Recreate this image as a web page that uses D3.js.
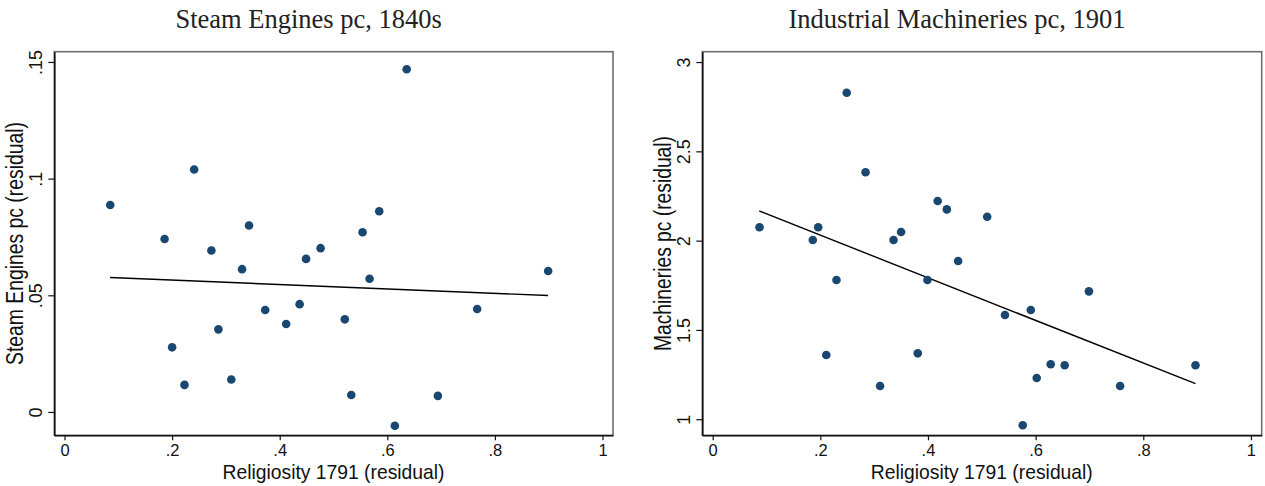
<!DOCTYPE html>
<html>
<head>
<meta charset="utf-8">
<script src="https://cdn.jsdelivr.net/npm/d3@7"></script>
<style>
  body { margin: 0; background: #fff; }
  svg { display: block; }
</style>
</head>
<body>
<svg id="chart" width="1265" height="486"></svg>
<script>
// x axis (shared)
const xTickValues = [0, 0.2, 0.4, 0.6, 0.8, 1];
const xTickLabels = ["0", ".2", ".4", ".6", ".8", "1"];
const xTitle = "Religiosity 1791 (residual)";

// left panel: steam engines
const steamTitle = "Steam Engines pc, 1840s";
const steamYTitle = "Steam Engines pc (residual)";
const steamYTicks = [0, 0.05, 0.1, 0.15];
const steamYLabels = ["0", ".05", ".1", ".15"];
const steamX = [0.085, 0.186, 0.241, 0.273, 0.343, 0.330, 0.449, 0.476, 0.554, 0.585, 0.636, 0.567, 0.899,
  0.200, 0.223, 0.286, 0.310, 0.373, 0.412, 0.437, 0.521, 0.767, 0.533, 0.694, 0.614];
const steamY = [0.0887, 0.0741, 0.1039, 0.0692, 0.0799, 0.0612, 0.0656, 0.0702, 0.0770, 0.0860, 0.1469, 0.0571, 0.0604,
  0.0277, 0.0116, 0.0354, 0.0139, 0.0437, 0.0377, 0.0462, 0.0397, 0.0441, 0.0073, 0.0069, -0.0059];
const steamFitX = [0.0846, 0.899];
const steamFitY = [0.0576, 0.0499];

// right panel: industrial machineries
const machTitle = "Industrial Machineries pc, 1901";
const machYTitle = "Machineries pc (residual)";
const machYTicks = [1, 1.5, 2, 2.5, 3];
const machYLabels = ["1", "1.5", "2", "2.5", "3"];
const machX = [0.087, 0.186, 0.196, 0.249, 0.284, 0.230, 0.336, 0.350, 0.418, 0.435, 0.399, 0.456, 0.510,
  0.699, 0.211, 0.311, 0.381, 0.543, 0.591, 0.628, 0.654, 0.602, 0.757, 0.897, 0.576];
const machY = [2.075, 2.004, 2.075, 2.828, 2.383, 1.780, 2.004, 2.048, 2.222, 2.175, 1.780, 1.886, 2.134,
  1.716, 1.360, 1.186, 1.369, 1.584, 1.612, 1.308, 1.302, 1.231, 1.186, 1.302, 0.966];
const machFitX = [0.0866, 0.897];
const machFitY = [2.166, 1.199];

const svg = d3.select("#chart");
const markerColor = "#1a476f";
const tickFont = "'Liberation Sans Narrow', 'Liberation Sans', Arial, sans-serif";
const labelFont = "'Liberation Sans', Arial, sans-serif";

function drawPanel(p) {
  const g = svg.append("g");
  const left = p.left, right = p.right, top = 51.7, bottom = 435.3;

  const xScale = d3.scaleLinear().domain(p.xDomain).range([left, right]);
  const yScale = d3.scaleLinear().domain(p.yDomain).range([bottom, top]);

  // title (sits a little left of the plot centre, as in the original)
  g.append("text")
    .attr("x", (left + right) / 2 - 25)
    .attr("y", 28)
    .attr("text-anchor", "middle")
    .attr("font-family", "'Liberation Serif', 'Times New Roman', serif")
    .attr("font-size", 26.5)
    .attr("fill", "#222")
    .text(p.title);

  // plot region outline (grey), axes drawn over it
  g.append("rect")
    .attr("x", left).attr("y", top)
    .attr("width", right - left).attr("height", bottom - top)
    .attr("fill", "none")
    .attr("stroke", "#6e6e6e")
    .attr("stroke-width", 1.6);

  const xAxis = d3.axisBottom(xScale)
    .tickValues(xTickValues)
    .tickFormat((d, i) => xTickLabels[i])
    .tickSize(5).tickSizeOuter(0);
  const gx = g.append("g")
    .attr("transform", `translate(0, ${bottom})`)
    .call(xAxis);
  gx.select(".domain").attr("stroke", "#111").attr("stroke-width", 1.6);
  gx.selectAll(".tick line").attr("stroke", "#111").attr("stroke-width", 1.2);
  gx.selectAll(".tick text")
    .attr("font-family", tickFont).attr("font-size", 16.5).attr("fill", "#111")
    .attr("dy", null).attr("y", 21);

  const yAxis = d3.axisLeft(yScale)
    .tickValues(p.yTicks)
    .tickFormat((d, i) => p.yLabels[i])
    .tickSize(6).tickSizeOuter(0);
  const gy = g.append("g")
    .attr("transform", `translate(${left}, 0)`)
    .call(yAxis);
  gy.select(".domain").attr("stroke", "#111").attr("stroke-width", 1.6);
  gy.selectAll(".tick line").attr("stroke", "#111").attr("stroke-width", 1.2);
  gy.selectAll(".tick text")
    .attr("font-family", tickFont).attr("font-size", 18).attr("fill", "#111")
    .attr("x", null).attr("dy", null)
    .attr("text-anchor", "middle")
    .attr("transform", "translate(-12.6, 0) rotate(-90)");

  // axis titles: tall glyphs, squeezed along the reading direction
  g.append("text")
    .attr("x", (xScale(0) + xScale(1)) / 2)
    .attr("y", 479)
    .attr("text-anchor", "middle")
    .attr("font-family", labelFont)
    .attr("font-size", 21)
    .attr("textLength", 222)
    .attr("lengthAdjust", "spacingAndGlyphs")
    .attr("fill", "#111")
    .text(xTitle);

  g.append("text")
    .attr("transform", `translate(${left - 31.8}, ${(top + bottom) / 2}) rotate(-90)`)
    .attr("text-anchor", "middle")
    .attr("font-family", labelFont)
    .attr("font-size", 23)
    .attr("textLength", p.yTitleLength)
    .attr("lengthAdjust", "spacingAndGlyphs")
    .attr("fill", "#111")
    .text(p.yTitle);

  // fitted line
  const fit = p.fitX.map((x, i) => ({ x: x, y: p.fitY[i] }));
  const line = d3.line().x(d => xScale(d.x)).y(d => yScale(d.y));
  g.append("path")
    .attr("d", line(fit))
    .attr("fill", "none")
    .attr("stroke", "#000")
    .attr("stroke-width", 1.4);

  // scatter points
  const pts = p.xs.map((x, i) => ({ x: x, y: p.ys[i] }));
  g.selectAll("circle.pt")
    .data(pts)
    .join("circle")
    .attr("class", "pt")
    .attr("cx", d => xScale(d.x))
    .attr("cy", d => yScale(d.y))
    .attr("r", 4.3)
    .attr("fill", markerColor);
}

drawPanel({
  left: 54.3, right: 613,
  xDomain: [-0.019, 1.0195], yDomain: [-0.01, 0.1544],
  title: steamTitle, yTitle: steamYTitle, yTitleLength: 243,
  yTicks: steamYTicks, yLabels: steamYLabels,
  xs: steamX, ys: steamY, fitX: steamFitX, fitY: steamFitY
});

drawPanel({
  left: 702.3, right: 1261.7,
  xDomain: [-0.0193, 1.02], yDomain: [0.910, 3.058],
  title: machTitle, yTitle: machYTitle, yTitleLength: 215,
  yTicks: machYTicks, yLabels: machYLabels,
  xs: machX, ys: machY, fitX: machFitX, fitY: machFitY
});
</script>
</body>
</html>
